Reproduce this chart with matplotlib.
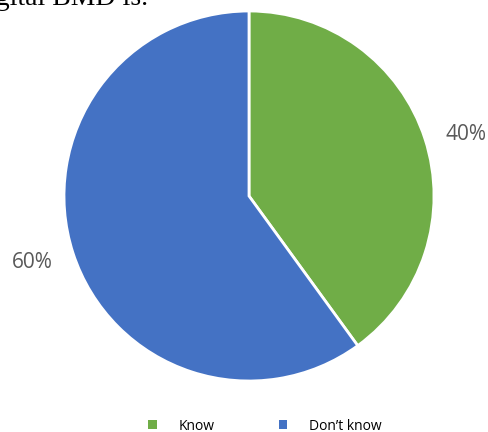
import matplotlib
matplotlib.use("Agg")
import matplotlib.pyplot as plt
from matplotlib.patches import Patch

categories = ["Know", "Don\u2019t know"]
values = [40, 60]
colors = ["#70AD47", "#4472C4"]
label_pos = [(1.173, 0.33), (-1.173, -0.36)]

W, H = 489, 432
fig = plt.figure(figsize=(W / 100, H / 100), dpi=100)
fig.patch.set_facecolor("white")

cx, cy, r = 249, 196, 185
ax = fig.add_axes([(cx - r) / W, (H - cy - r) / H, 2 * r / W, 2 * r / H])
wedges, texts, autotexts = ax.pie(
    values, colors=colors, startangle=90, counterclock=False,
    autopct="%1.0f%%", pctdistance=1.22,
    wedgeprops=dict(edgecolor="white", linewidth=2),
    textprops=dict(color="#595959", fontsize=15, family=["Open Sans", "DejaVu Sans"]))
for t, p in zip(autotexts, label_pos):
    t.set_position(p)
    t.set_va("center")
    t.set_ha("center")
ax.set_xlim(-1, 1)
ax.set_ylim(-1, 1)
ax.set_aspect("equal")
ax.axis("off")

fig.text(148 / W, 1 - 5 / H, "digital BMD is.", ha="right", va="baseline",
         fontsize=20, family=["Liberation Serif"], color="black")

handles = [Patch(facecolor=c, edgecolor="none") for c in colors]
fig.legend(handles, categories, loc="center", bbox_to_anchor=(265 / W, 1 - 426 / H),
           ncol=2, frameon=False, handlelength=0.6, handleheight=0.6,
           handletextpad=1.6, columnspacing=4.6,
           prop=dict(family=["Open Sans", "DejaVu Sans"], size=10))

fig.savefig("out.png", dpi=100, facecolor="white")
